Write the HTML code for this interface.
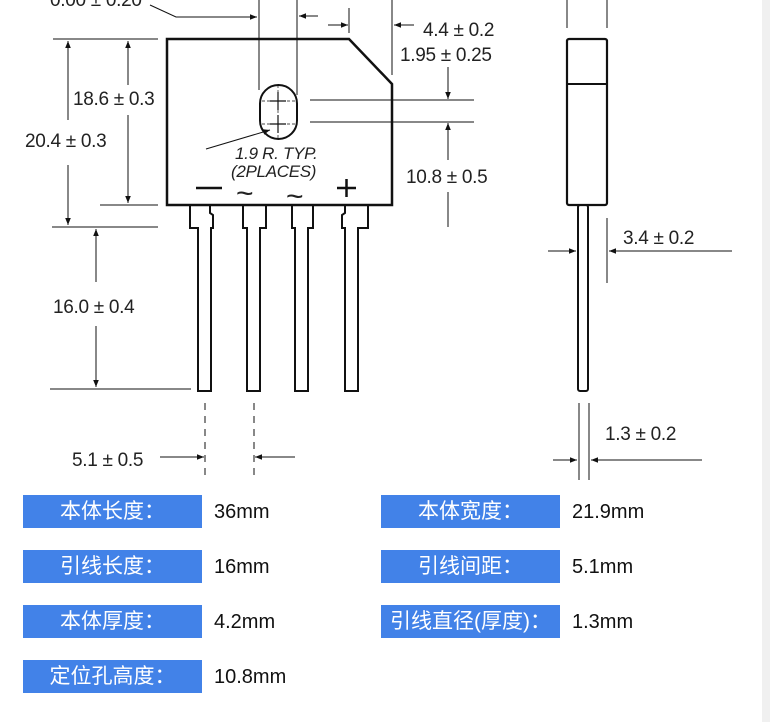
<!DOCTYPE html>
<html><head><meta charset="utf-8"><style>
body{margin:0;background:#fff;width:770px;height:722px;overflow:hidden;position:relative;font-family:"Liberation Sans","Noto Sans CJK SC",sans-serif}
.strip{position:absolute;left:762px;top:0;width:8px;height:722px;background:#f0f0f0}
.lab{position:absolute;width:179px;height:33px;background:#4282e8;color:#fff;font-size:21px;line-height:34px;text-align:center}
.val{position:absolute;font-size:20px;color:#111;line-height:35px}
svg text{font-family:"Liberation Sans",sans-serif;font-size:19px;fill:#222;stroke:none;letter-spacing:-0.3px}
</style></head><body>
<div class="strip"></div>
<svg width="770" height="490" style="position:absolute;left:0;top:0" fill="none" stroke="#111">
<defs><marker id="a" viewBox="0 0 10 10" refX="10" refY="5" markerWidth="7" markerHeight="7" orient="auto-start-reverse"><path d="M0,1L10,5L0,9z" fill="#111" stroke="none"/></marker></defs>
<path d="M167,39H349L392,84V205H167Z" stroke-width="2.5"/>
<rect x="260" y="85" width="37" height="54" rx="18.5" stroke-width="2"/>
<g stroke-width="1.2"><path d="M278,92V110M270,101H286M278,115V133M270,124H286"/></g>
<path d="M278,85V139M262,101H295M262,124H295" stroke-width="0.7" stroke-dasharray="3,2"/>
<g stroke-width="2">
<path d="M190,205V228H198V391H211V228H213V215L210,213V205"/>
<path d="M243,205V228H247V391H260V228H266V205"/>
<path d="M292,205V228H295V391H308V228H313V205"/>
<path d="M345,205V213L342,215V228H345V391H358V228H368V205"/>
</g>
<g stroke-width="1">
<path d="M53,39H158M52,227H158M100,205H158M50,389H191"/>
<path d="M68,41V120" marker-start="url(#a)"/><path d="M68,165V225" marker-end="url(#a)"/>
<path d="M128,41V85" marker-start="url(#a)"/><path d="M128,115V203" marker-end="url(#a)"/>
<path d="M96,229V282" marker-start="url(#a)"/><path d="M96,326V387" marker-end="url(#a)"/>
<path d="M205,403V480M254,403V480" stroke-dasharray="7,6"/>
<path d="M160,457H204" marker-end="url(#a)"/><path d="M295,457H255" marker-end="url(#a)"/>
<path d="M259,0V90M297,0V95M349,8V33M392,0V75"/>
<path d="M150,5L176,17H257" marker-end="url(#a)"/>
<path d="M318,16H299" marker-end="url(#a)"/>
<path d="M328,25H348" marker-end="url(#a)"/>
<path d="M414,25H394" marker-end="url(#a)"/>
<path d="M310,100H474M310,122H474"/>
<path d="M448,67V99" marker-end="url(#a)"/>
<path d="M448,160V123" marker-end="url(#a)"/>
<path d="M448,192V227"/>
<path d="M206,149L270,130" marker-end="url(#a)"/>
<path d="M567,0V28M607,0V28"/>
<path d="M607,218V283"/>
<path d="M548,251H576" marker-end="url(#a)"/><path d="M627,251H609" marker-end="url(#a)"/><path d="M627,251H732"/>
<path d="M579,403V480M589,403V480"/>
<path d="M553,460H577" marker-end="url(#a)"/><path d="M612,460H591" marker-end="url(#a)"/><path d="M612,460H702"/>
</g>
<rect x="567" y="39" width="40" height="166" rx="2" stroke-width="2.2"/>
<path d="M567,84H607" stroke-width="2"/>
<rect x="578" y="205" width="10" height="186" rx="2" stroke-width="2"/>
<text x="50" y="6">0.00 ± 0.20</text>
<text x="423" y="36">4.4 ± 0.2</text>
<text x="400" y="61">1.95 ± 0.25</text>
<text x="73" y="105">18.6 ± 0.3</text>
<text x="25" y="147">20.4 ± 0.3</text>
<text x="406" y="183">10.8 ± 0.5</text>
<text x="53" y="313">16.0 ± 0.4</text>
<text x="72" y="466">5.1 ± 0.5</text>
<text x="623" y="244">3.4 ± 0.2</text>
<text x="605" y="440">1.3 ± 0.2</text>
<text x="235" y="159" font-style="italic" style="font-size:17px">1.9 R. TYP.</text>
<text x="231" y="177" font-style="italic" style="font-size:17px">(2PLACES)</text>
<path d="M196,188H222M337,188H356M346.5,179V197" stroke-width="2.5"/>
<text x="236" y="203" style="font-size:30px">~</text>
<text x="286" y="206" style="font-size:30px">~</text>
</svg>
<div class="lab" style="left:23px;top:495px">本体长度：</div><div class="val" style="left:214px;top:495px">36mm</div>
<div class="lab" style="left:381px;top:495px">本体宽度：</div><div class="val" style="left:572px;top:495px">21.9mm</div>
<div class="lab" style="left:23px;top:550px">引线长度：</div><div class="val" style="left:214px;top:550px">16mm</div>
<div class="lab" style="left:381px;top:550px">引线间距：</div><div class="val" style="left:572px;top:550px">5.1mm</div>
<div class="lab" style="left:23px;top:605px">本体厚度：</div><div class="val" style="left:214px;top:605px">4.2mm</div>
<div class="lab" style="left:381px;top:605px">引线直径(厚度)：</div><div class="val" style="left:572px;top:605px">1.3mm</div>
<div class="lab" style="left:23px;top:660px">定位孔高度：</div><div class="val" style="left:214px;top:660px">10.8mm</div>
</body></html>
